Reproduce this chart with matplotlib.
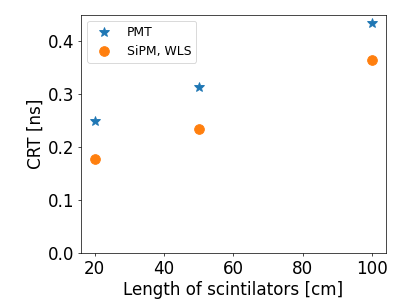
import matplotlib
matplotlib.use("Agg")
import matplotlib.pyplot as plt

# data
length_cm = [20, 50, 100]
crt_pmt = [0.249, 0.314, 0.435]
crt_sipm = [0.178, 0.235, 0.365]

DPI = 407 / 6.4

fig = plt.figure(figsize=(6.4, 4.8), dpi=DPI)
ax = fig.add_axes([0.199, 0.170, 0.749, 0.781])

ax.plot(length_cm, crt_pmt, linestyle="none", marker="*", markersize=11,
        color="#1f77b4", label="PMT")
ax.plot(length_cm, crt_sipm, linestyle="none", marker="o", markersize=11,
        color="#ff7f0e", label="SiPM, WLS")

ax.set_xlim(16, 104)
ax.set_ylim(0, 0.45)
ax.set_xticks([20, 40, 60, 80, 100])
ax.set_yticks([0.0, 0.1, 0.2, 0.3, 0.4])
ax.tick_params(labelsize=19)
ax.set_xlabel("Length of scintilators [cm]", fontsize=19)
ax.set_ylabel("CRT [ns]", fontsize=19)

ax.legend(loc="upper left", fontsize=14)

fig.savefig("out.png", dpi=DPI)
